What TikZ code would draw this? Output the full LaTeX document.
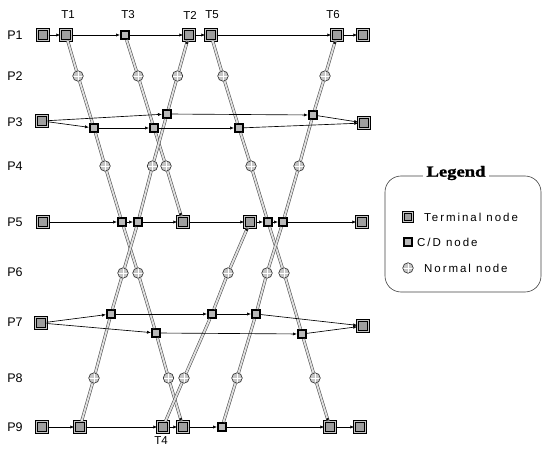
\documentclass[tikz,border=0pt]{standalone}
\usepackage{fontspec}
\setmainfont{Liberation Sans}
\newfontfamily\legserif[FakeStretch=1.2,FakeBold=1.5]{Liberation Serif}
\usetikzlibrary{arrows.meta,calc}
\begin{document}
\begin{tikzpicture}[x=1pt,y=-1pt,
  termnode/.style={rectangle,draw=black,line width=0.95pt,double=gray!45,double distance=0.8pt,fill=gray!75,minimum size=10.5pt,inner sep=0pt},
  cdnode/.style={rectangle,draw=black,line width=2pt,fill=gray!55,minimum size=8pt,inner sep=0pt},
  normnode/.style={circle,draw=black!85,line width=0.6pt,fill=gray!45,minimum size=10.5pt,inner sep=0pt,
     path picture={\draw[white,line width=0.9pt] (path picture bounding box.north) -- (path picture bounding box.south) (path picture bounding box.west) -- (path picture bounding box.east);}},
  flow/.style={-{Latex[length=4pt,width=3.2pt]},line width=0.65pt,black},
  trans/.style={draw=black!70,double=gray!25,double distance=1.9pt,line width=0.55pt},
  tipsty/.style={-{Latex[length=3pt,width=3pt]},line width=0.4pt,black},
  plabel/.style={font=\fontsize{12.5}{15}\selectfont,inner sep=0pt},
  tlabel/.style={font=\fontsize{11.5}{14}\selectfont,inner sep=0pt},
  legtext/.style={anchor=west,font=\fontsize{11.5}{14}\selectfont\addfontfeatures{LetterSpace=17},inner sep=0pt},
]
\useasboundingbox (0,0) rectangle (542,452);

% row labels
\node[plabel] (p1) at (15,35) {P1};
\node[plabel] (p2) at (15,76) {P2};
\node[plabel] (p3) at (15,122) {P3};
\node[plabel] (p4) at (15,166) {P4};
\node[plabel] (p5) at (15,222) {P5};
\node[plabel] (p6) at (15,272) {P6};
\node[plabel] (p7) at (15,322) {P7};
\node[plabel] (p8) at (15,378) {P8};
\node[plabel] (p9) at (15,427) {P9};

% P1
\node[termnode] (a1) at (43,35) {};
\node[termnode] (t1) at (66,35) {};
\node[cdnode] (t3) at (125,35) {};
\node[termnode] (t2) at (189,35) {};
\node[termnode] (t5) at (211,35) {};
\node[termnode] (t6) at (337,35) {};
\node[termnode] (z1) at (363,35) {};
% P2
\node[normnode] (n21) at (78,76) {};
\node[normnode] (n22) at (138,76) {};
\node[normnode] (n23) at (177.5,76) {};
\node[normnode] (n24) at (223,76) {};
\node[normnode] (n25) at (325,76) {};
% P3
\node[termnode] (a3) at (42,121) {};
\node[cdnode] (l31) at (94,128) {};
\node[cdnode] (l32) at (154,128) {};
\node[cdnode] (l33) at (239,128) {};
\node[cdnode] (u31) at (167,114) {};
\node[cdnode] (u32) at (313,115) {};
\node[termnode] (z3) at (364,123) {};
% P4
\node[normnode] (n41) at (105,166) {};
\node[normnode] (n42) at (152.5,166) {};
\node[normnode] (n43) at (166,166) {};
\node[normnode] (n44) at (251,166) {};
\node[normnode] (n45) at (299,166) {};
% P5
\node[termnode] (a5) at (43,222) {};
\node[cdnode] (c51) at (122,222) {};
\node[cdnode] (c52) at (138,222) {};
\node[termnode] (c53) at (183,222) {};
\node[termnode] (c54) at (250,222) {};
\node[cdnode] (c55) at (268,222) {};
\node[cdnode] (c56) at (283,222) {};
\node[termnode] (z5) at (362,222) {};
% P6
\node[normnode] (n61) at (123,273) {};
\node[normnode] (n62) at (138,273) {};
\node[normnode] (n63) at (228,273) {};
\node[normnode] (n64) at (267,273) {};
\node[normnode] (n65) at (284,273) {};
% P7
\node[termnode] (a7) at (41,323) {};
\node[cdnode] (u71) at (111,314) {};
\node[cdnode] (u72) at (212,314) {};
\node[cdnode] (u73) at (256,314) {};
\node[cdnode] (l71) at (156,333) {};
\node[cdnode] (l72) at (302,334) {};
\node[termnode] (z7) at (363,326) {};
% P8
\node[normnode] (n81) at (94,378) {};
\node[normnode] (n82) at (168.5,378) {};
\node[normnode] (n83) at (184,378) {};
\node[normnode] (n84) at (237,378) {};
\node[normnode] (n85) at (315,378) {};
% P9
\node[termnode] (a9) at (42,427) {};
\node[termnode] (b91) at (80,427) {};
\node[termnode] (t4) at (163,427) {};
\node[termnode] (b93) at (183,427) {};
\node[cdnode] (b94) at (222,427) {};
\node[termnode] (b95) at (330,427) {};
\node[termnode] (z9) at (360,427) {};

% transition labels
\node[tlabel] (lt1) at (68,15) {T1};
\node[tlabel] (lt3) at (128,15) {T3};
\node[tlabel] (lt2) at (190,15) {T2};
\node[tlabel] (lt5) at (212,15) {T5};
\node[tlabel] (lt6) at (333,15) {T6};
\node[tlabel] (lt4) at (161,441) {T4};

% transition double lines
\draw[trans] (t1) -- (n21) -- (l31) -- (n41) -- (c51) -- (n62) -- (l71) -- (n82) -- (b93);
\draw[trans] (t3) -- (n22) -- (l32) -- (n43) -- (c53);
\draw[trans] (b91) -- (n81) -- (u71) -- (n61) -- (c52) -- (n42) -- (u31) -- (n23) -- (t2);
\draw[trans] (t4) -- (n83) -- (u72) -- (n63) -- (c54);
\draw[trans] (t5) -- (n24) -- (l33) -- (n44) -- (c55) -- (n65) -- (l72) -- (n85) -- (b95);
\draw[trans] (b94) -- (n84) -- (u73) -- (n64) -- (c56) -- (n45) -- (u32) -- (n25) -- (t6);

% arrow tips of transitions
\draw[tipsty] ($(b93)!9pt!(n82)$) -- (b93);
\draw[tipsty] ($(c53)!9pt!(n43)$) -- (c53);
\draw[tipsty] ($(t2)!9pt!(n23)$) -- (t2);
\draw[tipsty] ($(c54)!9pt!(n63)$) -- (c54);
\draw[tipsty] ($(b95)!9pt!(n85)$) -- (b95);
\draw[tipsty] ($(t6)!9pt!(n25)$) -- (t6);

% horizontal flows
\foreach \s/\e in {a1/t1,t1/t3,t3/t2,t2/t5,t5/t6,t6/z1,
  a3/u31,u31/u32,u32/z3,a3/l31,l31/l32,l32/l33,l33/z3,
  a5/c51,c51/c52,c52/c53,c53/c54,c54/c55,c55/c56,c56/z5,
  a7/u71,u71/u72,u72/u73,u73/z7,a7/l71,l71/l72,l72/z7,
  a9/b91,b91/t4,t4/b93,b93/b94,b94/b95,b95/z9}
  \draw[flow] (\s) -- (\e);

% legend
\draw[black!75,line width=0.6pt,rounded corners=16pt] (385,176) rectangle (541,292);
\node[fill=white,inner sep=4pt,font=\legserif\bfseries\fontsize{15.5}{17}\selectfont] (legtitle) at (456,173) {Legend};
\node[termnode,minimum size=9.5pt] (lterm) at (408,217) {};
\node[legtext] (ltermt) at (424,217) {Terminal node};
\node[cdnode] (lcd) at (408,242) {};
\node[legtext] (lcdt) at (417,242) {C/D node};
\node[normnode] (lnorm) at (408,268) {};
\node[legtext] (lnormt) at (424,268) {Normal node};
\end{tikzpicture}
\end{document}
